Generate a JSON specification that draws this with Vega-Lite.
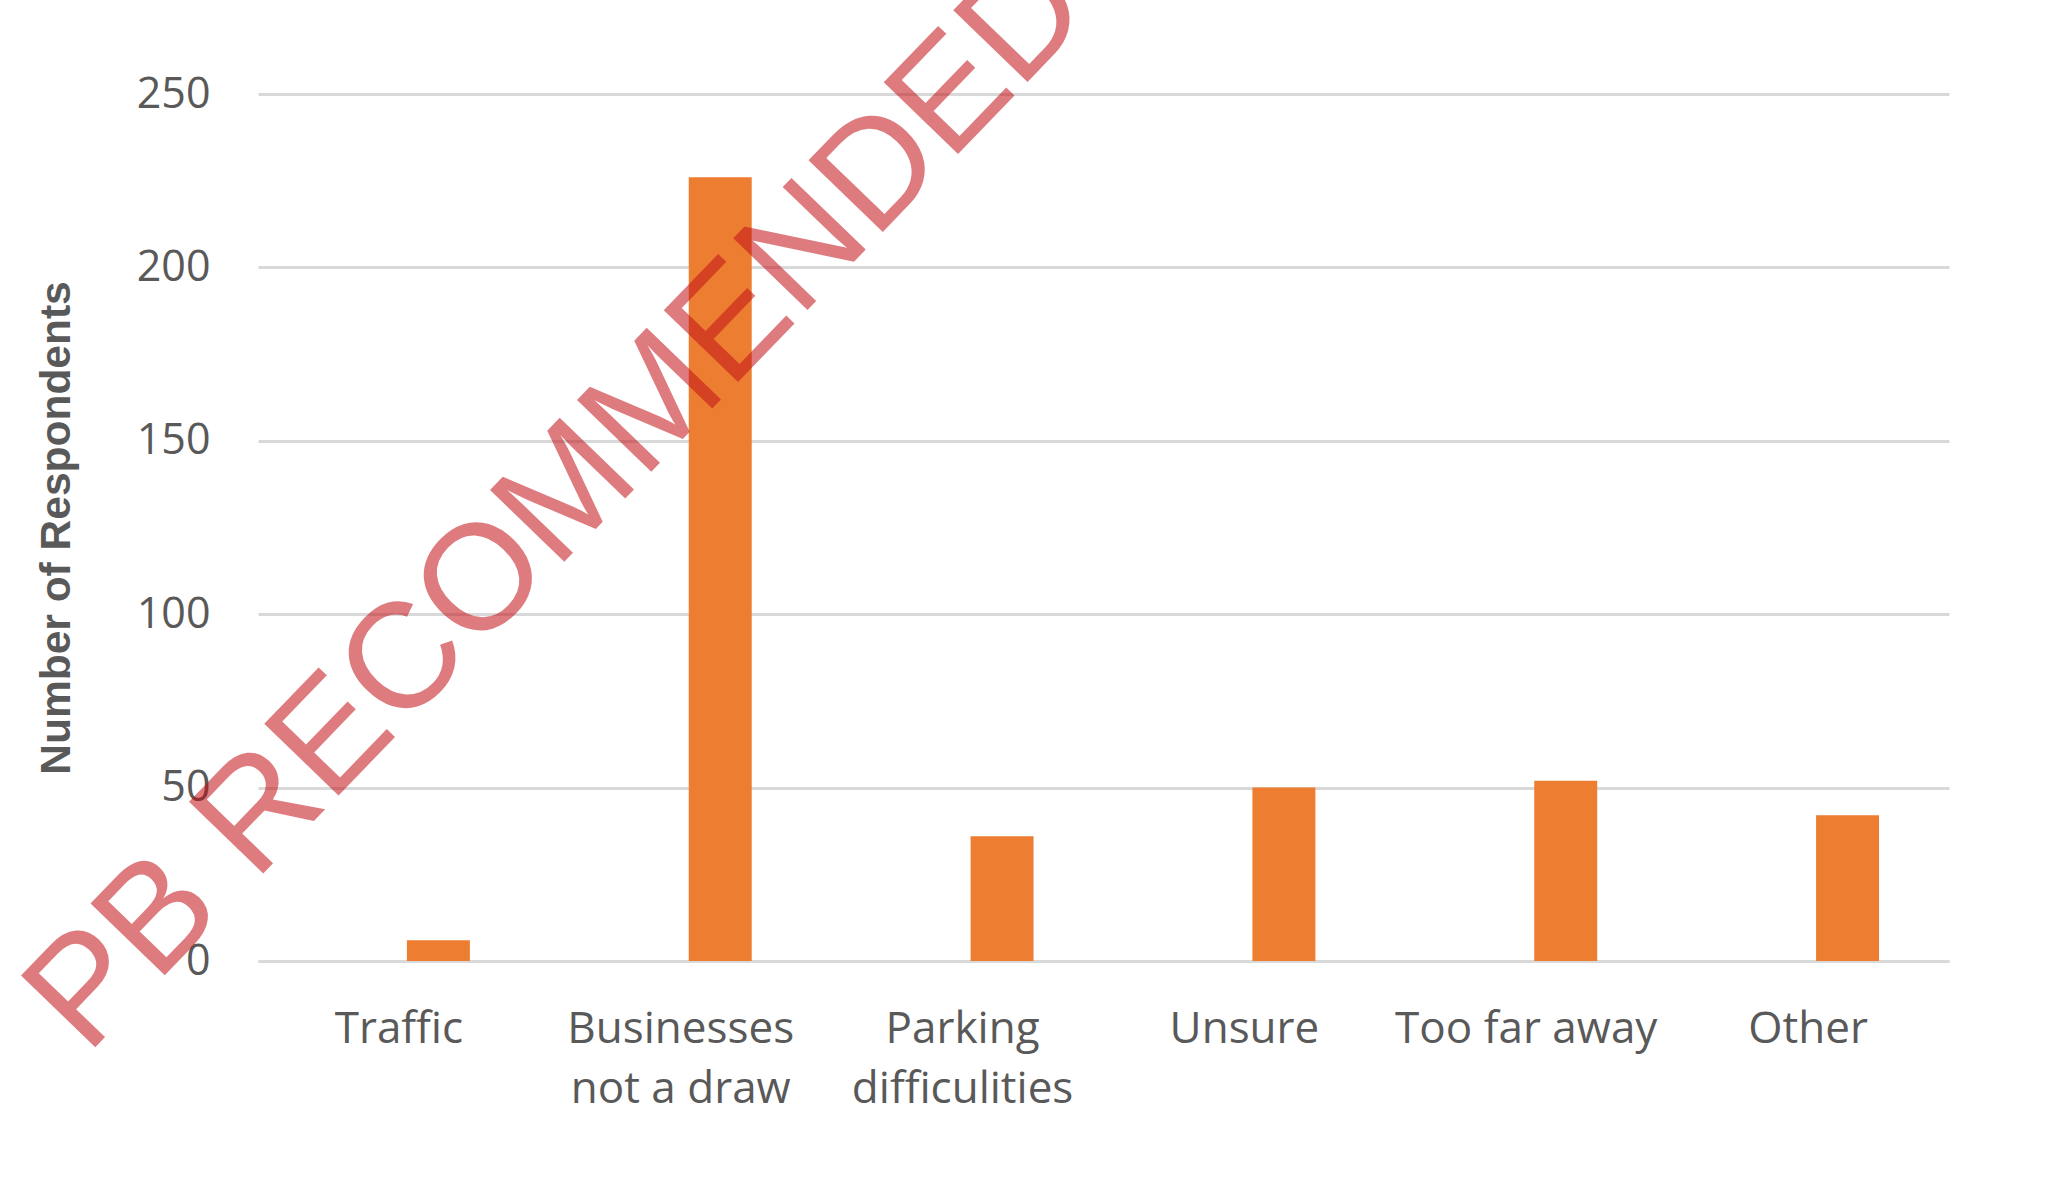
{
  "$schema": "https://vega.github.io/schema/vega-lite/v6.json",
  "autosize": {"type": "none"},
  "width": 1691,
  "height": 867,
  "padding": {"left": 258, "top": 94, "right": 101, "bottom": 217},
  "background": "white",
  "config": {
    "view": {"stroke": null},
    "axis": {"labelColor": "#595959", "titleColor": "#595959"}
  },
  "data": {
    "values": [
      {"reason": "Traffic", "series": "v", "count": 6},
      {"reason": "Businesses not a draw", "series": "v", "count": 226},
      {"reason": "Parking difficulities", "series": "v", "count": 36},
      {"reason": "Unsure", "series": "v", "count": 50},
      {"reason": "Too far away", "series": "v", "count": 52},
      {"reason": "Other", "series": "v", "count": 42}
    ]
  },
  "layer": [
    {
      "mark": {"type": "bar", "color": "#ED7D31"},
      "encoding": {
        "x": {
          "field": "reason",
          "type": "nominal",
          "sort": null,
          "scale": {"paddingInner": 0, "paddingOuter": 0},
          "axis": {
            "title": null,
            "labelAngle": 0,
            "labelFont": "Open Sans",
            "labelFontSize": 44,
            "labelLineHeight": 60,
            "labelPadding": 46,
            "labelBaseline": "top",
            "labelLimit": 0,
            "ticks": false,
            "tickSize": 0,
            "domain": true,
            "domainColor": "#d9d9d9",
            "domainWidth": 3,
            "grid": false,
            "labelExpr": "datum.label == 'Businesses not a draw' ? ['Businesses', 'not a draw'] : datum.label == 'Parking difficulities' ? ['Parking', 'difficulities'] : datum.label"
          }
        },
        "xOffset": {
          "field": "series",
          "type": "nominal",
          "scale": {"domain": ["pad", "v"], "paddingInner": 0.2025, "paddingOuter": 0.886}
        },
        "y": {
          "field": "count",
          "type": "quantitative",
          "scale": {"domain": [0, 250], "nice": false},
          "axis": {
            "title": "Number of Respondents",
            "titleFont": "Liberation Sans",
            "titleFontWeight": "bold",
            "titleFontSize": 42.5,
            "titlePadding": 58,
            "values": [0, 50, 100, 150, 200, 250],
            "labelFont": "Open Sans",
            "labelFontSize": 43,
            "labelPadding": 48,
            "ticks": false,
            "tickSize": 0,
            "domain": false,
            "grid": true,
            "gridColor": "#d9d9d9",
            "gridWidth": 3
          }
        }
      }
    },
    {
      "data": {"values": [{"mark_text": "PB RECOMMENDED"}]},
      "mark": {
        "type": "text",
        "font": "Liberation Sans",
        "fontSize": 150,
        "angle": -46,
        "align": "center",
        "baseline": "middle",
        "color": "#c31118",
        "opacity": 0.55
      },
      "encoding": {
        "text": {"field": "mark_text"},
        "x": {"datum": "Businesses not a draw", "bandPosition": 0.065},
        "y": {"datum": 132}
      }
    }
  ]
}
